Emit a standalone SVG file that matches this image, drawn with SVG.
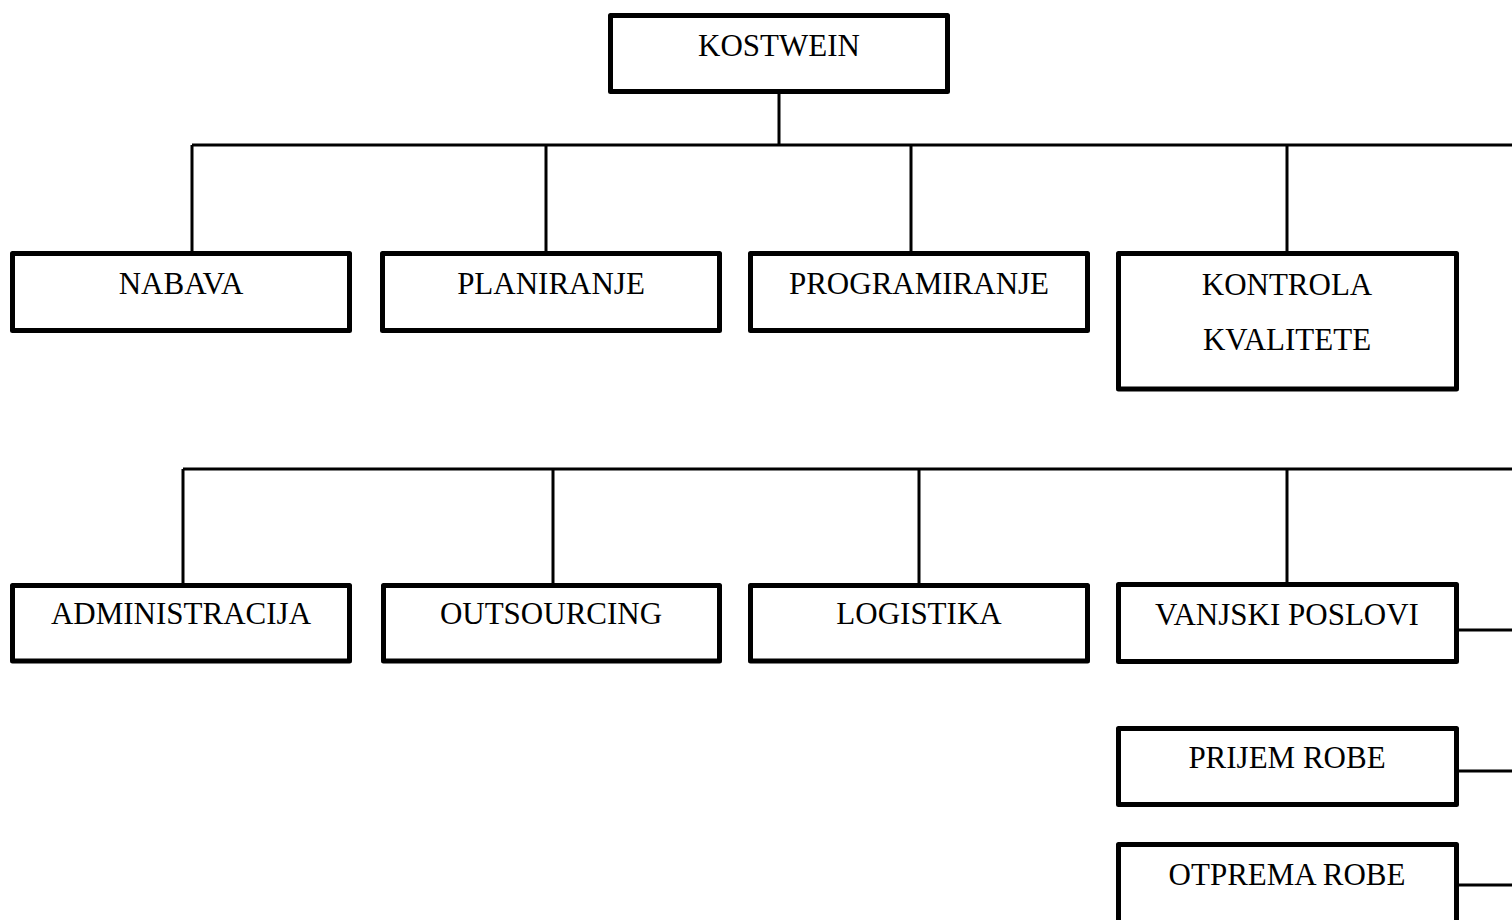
<svg xmlns="http://www.w3.org/2000/svg" width="1512" height="920" viewBox="0 0 1512 920">
<style>
.box{fill:#fff;stroke:#000;stroke-width:5;stroke-linejoin:round}
.ln{fill:none;stroke:#000;stroke-width:3}
text{font-family:"Liberation Serif","Times New Roman",serif;font-size:31px;fill:#000;text-anchor:middle}
</style>
<rect width="1512" height="920" fill="#fff"/>
<g id="connectors">
<path class="ln" d="M779 93V145M192 145H1512M192 145V251M546 145V251M911 145V251M1287 145V251"/>
<path class="ln" d="M183 469H1512M183 469V583M553 469V583M919 469V583M1287 469V583"/>
<path class="ln" d="M1458 630H1512M1458 771H1512M1458 885H1512"/>
</g>
<g id="kostwein"><rect class="box" x="610.5" y="15.5" width="337" height="76"/><text x="779" y="56">KOSTWEIN</text></g>
<g id="nabava"><rect class="box" x="12.5" y="253.5" width="337" height="77"/><text x="181" y="294">NABAVA</text></g>
<g id="planiranje"><rect class="box" x="382.5" y="253.5" width="337" height="77"/><text x="551" y="294">PLANIRANJE</text></g>
<g id="programiranje"><rect class="box" x="750.5" y="253.5" width="337" height="77"/><text x="919" y="294">PROGRAMIRANJE</text></g>
<g id="kontrola"><rect class="box" x="1118.5" y="253.5" width="338" height="135.5"/><text x="1287" y="295">KONTROLA</text><text x="1287" y="350">KVALITETE</text></g>
<g id="administracija"><rect class="box" x="12.5" y="585.5" width="337" height="75.5"/><text x="181" y="624">ADMINISTRACIJA</text></g>
<g id="outsourcing"><rect class="box" x="383.5" y="585.5" width="336" height="75.5"/><text x="551" y="624">OUTSOURCING</text></g>
<g id="logistika"><rect class="box" x="750.5" y="585.5" width="337" height="75.5"/><text x="919" y="624">LOGISTIKA</text></g>
<g id="vanjski"><rect class="box" x="1118.5" y="584.5" width="338" height="77"/><text x="1287" y="625">VANJSKI POSLOVI</text></g>
<g id="prijem"><rect class="box" x="1118.5" y="728.5" width="338" height="76"/><text x="1287" y="768">PRIJEM ROBE</text></g>
<g id="otprema"><rect class="box" x="1118.5" y="844.5" width="338" height="90"/><text x="1287" y="885">OTPREMA ROBE</text></g>
</svg>
